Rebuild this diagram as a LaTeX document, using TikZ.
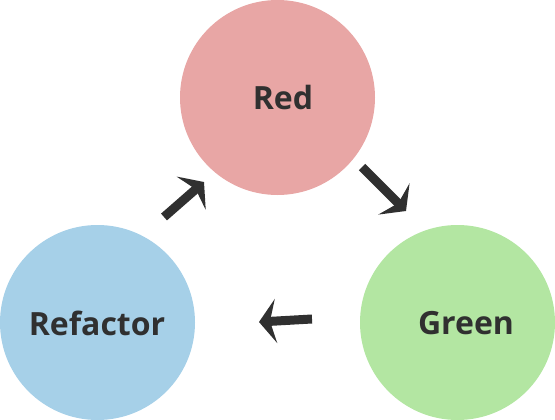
\documentclass[tikz,border=0pt]{standalone}
\usepackage{fontspec}
\setsansfont{Open Sans}
\usetikzlibrary{arrows.meta}
\definecolor{redphase}{HTML}{E8A6A5}
\definecolor{greenphase}{HTML}{B3E6A2}
\definecolor{bluephase}{HTML}{A6D0E8}
\definecolor{darkgray}{HTML}{303030}

\begin{document}
\begin{tikzpicture}[x=1pt, y=-1pt,
	phase/.style={circle, minimum size=195pt, inner sep=0pt},
	word/.style={font=\sffamily\bfseries\fontsize{32}{32}\selectfont, text=darkgray},
	turn/.style={draw=darkgray, line width=9pt, -{Stealth[length=17pt, width=44pt, inset=6pt]}}]
	\useasboundingbox (0,0) rectangle (555,420);
	\node[phase, fill=redphase] (red) at (277.5,97.5) {};
	\node[phase, fill=bluephase] (refactor) at (97.5,322.5) {};
	\node[phase, fill=greenphase] (green) at (457.5,322.5) {};
	\node[word] (redtxt) at (283,98) {Red};
	\node[word] (greentxt) at (466,323) {Green};
	\node[word] (refactortxt) at (97,323) {Refactor};
	% arrow ends
	\coordinate (up0) at (164,217);
	\coordinate (up1) at (204,182);
	\coordinate (down0) at (362,167);
	\coordinate (down1) at (406,211);
	\coordinate (back0) at (312,319);
	\coordinate (back1) at (259,322);
	\draw[turn] (up0) -- (up1);
	\draw[turn] (down0) -- (down1);
	\draw[turn] (back0) -- (back1);
\end{tikzpicture}
\end{document}
